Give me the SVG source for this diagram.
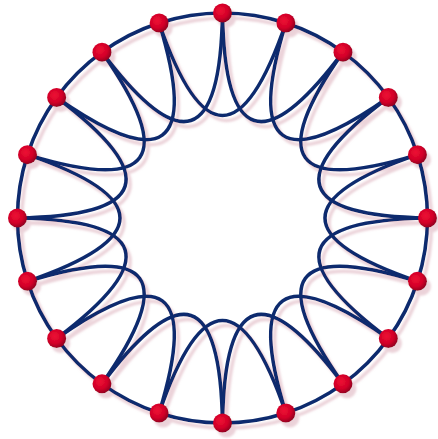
<svg xmlns="http://www.w3.org/2000/svg" width="438" height="439" viewBox="0 0 438 439">
<defs>
<style>
.edge{fill:none;stroke:#0d2c6e;stroke-width:3.6;stroke-linecap:round}
.node{fill:url(#ng)}
</style>
<radialGradient id="ng" cx="0.4" cy="0.38" r="0.65">
<stop offset="0" stop-color="#ee1034"/>
<stop offset="0.6" stop-color="#d20028"/>
<stop offset="1" stop-color="#8e0020"/>
</radialGradient>
<filter id="sh" x="-10%" y="-10%" width="120%" height="120%">
<feDropShadow dx="4" dy="5" stdDeviation="0.8" flood-color="#d8a6b4" flood-opacity="0.5"/>
</filter>
</defs>
<rect width="438" height="439" fill="#ffffff"/>
<g filter="url(#sh)">
<g id="connectors">
<path class="edge" d="M222.5,13 A205,205 0 0 1 285.85,23.03"/>
<path class="edge" d="M285.85,23.03 A205,205 0 0 1 343,52.15"/>
<path class="edge" d="M343,52.15 A205,205 0 0 1 388.35,97.5"/>
<path class="edge" d="M388.35,97.5 A205,205 0 0 1 417.47,154.65"/>
<path class="edge" d="M417.47,154.65 A205,205 0 0 1 427.5,218"/>
<path class="edge" d="M427.5,218 A205,205 0 0 1 417.47,281.35"/>
<path class="edge" d="M417.47,281.35 A205,205 0 0 1 388.35,338.5"/>
<path class="edge" d="M388.35,338.5 A205,205 0 0 1 343,383.85"/>
<path class="edge" d="M343,383.85 A205,205 0 0 1 285.85,412.97"/>
<path class="edge" d="M285.85,412.97 A205,205 0 0 1 222.5,423"/>
<path class="edge" d="M222.5,423 A205,205 0 0 1 159.15,412.97"/>
<path class="edge" d="M159.15,412.97 A205,205 0 0 1 102,383.85"/>
<path class="edge" d="M102,383.85 A205,205 0 0 1 56.65,338.5"/>
<path class="edge" d="M56.65,338.5 A205,205 0 0 1 27.53,281.35"/>
<path class="edge" d="M27.53,281.35 A205,205 0 0 1 17.5,218"/>
<path class="edge" d="M17.5,218 A205,205 0 0 1 27.53,154.65"/>
<path class="edge" d="M27.53,154.65 A205,205 0 0 1 56.65,97.5"/>
<path class="edge" d="M56.65,97.5 A205,205 0 0 1 102,52.15"/>
<path class="edge" d="M102,52.15 A205,205 0 0 1 159.15,23.03"/>
<path class="edge" d="M159.15,23.03 A205,205 0 0 1 222.5,13"/>
<path class="edge" d="M222.5,13 Q225.59,208.49 343,52.15"/>
<path class="edge" d="M285.85,23.03 Q228.38,209.91 388.35,97.5"/>
<path class="edge" d="M343,52.15 Q230.59,212.12 417.47,154.65"/>
<path class="edge" d="M388.35,97.5 Q232.01,214.91 427.5,218"/>
<path class="edge" d="M417.47,154.65 Q232.5,218 417.47,281.35"/>
<path class="edge" d="M427.5,218 Q232.01,221.09 388.35,338.5"/>
<path class="edge" d="M417.47,281.35 Q230.59,223.88 343,383.85"/>
<path class="edge" d="M388.35,338.5 Q228.38,226.09 285.85,412.97"/>
<path class="edge" d="M343,383.85 Q225.59,227.51 222.5,423"/>
<path class="edge" d="M285.85,412.97 Q222.5,228 159.15,412.97"/>
<path class="edge" d="M222.5,423 Q219.41,227.51 102,383.85"/>
<path class="edge" d="M159.15,412.97 Q216.62,226.09 56.65,338.5"/>
<path class="edge" d="M102,383.85 Q214.41,223.88 27.53,281.35"/>
<path class="edge" d="M56.65,338.5 Q212.99,221.09 17.5,218"/>
<path class="edge" d="M27.53,281.35 Q212.5,218 27.53,154.65"/>
<path class="edge" d="M17.5,218 Q212.99,214.91 56.65,97.5"/>
<path class="edge" d="M27.53,154.65 Q214.41,212.12 102,52.15"/>
<path class="edge" d="M56.65,97.5 Q216.62,209.91 159.15,23.03"/>
<path class="edge" d="M102,52.15 Q219.41,208.49 222.5,13"/>
<path class="edge" d="M159.15,23.03 Q222.5,208 285.85,23.03"/>
</g>
<g id="nodes">
<g id="n0"><circle class="node" cx="222.5" cy="13" r="9.5"/></g>
<g id="n1"><circle class="node" cx="285.85" cy="23.03" r="9.5"/></g>
<g id="n2"><circle class="node" cx="343" cy="52.15" r="9.5"/></g>
<g id="n3"><circle class="node" cx="388.35" cy="97.5" r="9.5"/></g>
<g id="n4"><circle class="node" cx="417.47" cy="154.65" r="9.5"/></g>
<g id="n5"><circle class="node" cx="427.5" cy="218" r="9.5"/></g>
<g id="n6"><circle class="node" cx="417.47" cy="281.35" r="9.5"/></g>
<g id="n7"><circle class="node" cx="388.35" cy="338.5" r="9.5"/></g>
<g id="n8"><circle class="node" cx="343" cy="383.85" r="9.5"/></g>
<g id="n9"><circle class="node" cx="285.85" cy="412.97" r="9.5"/></g>
<g id="n10"><circle class="node" cx="222.5" cy="423" r="9.5"/></g>
<g id="n11"><circle class="node" cx="159.15" cy="412.97" r="9.5"/></g>
<g id="n12"><circle class="node" cx="102" cy="383.85" r="9.5"/></g>
<g id="n13"><circle class="node" cx="56.65" cy="338.5" r="9.5"/></g>
<g id="n14"><circle class="node" cx="27.53" cy="281.35" r="9.5"/></g>
<g id="n15"><circle class="node" cx="17.5" cy="218" r="9.5"/></g>
<g id="n16"><circle class="node" cx="27.53" cy="154.65" r="9.5"/></g>
<g id="n17"><circle class="node" cx="56.65" cy="97.5" r="9.5"/></g>
<g id="n18"><circle class="node" cx="102" cy="52.15" r="9.5"/></g>
<g id="n19"><circle class="node" cx="159.15" cy="23.03" r="9.5"/></g>
</g>
</g>
</svg>
